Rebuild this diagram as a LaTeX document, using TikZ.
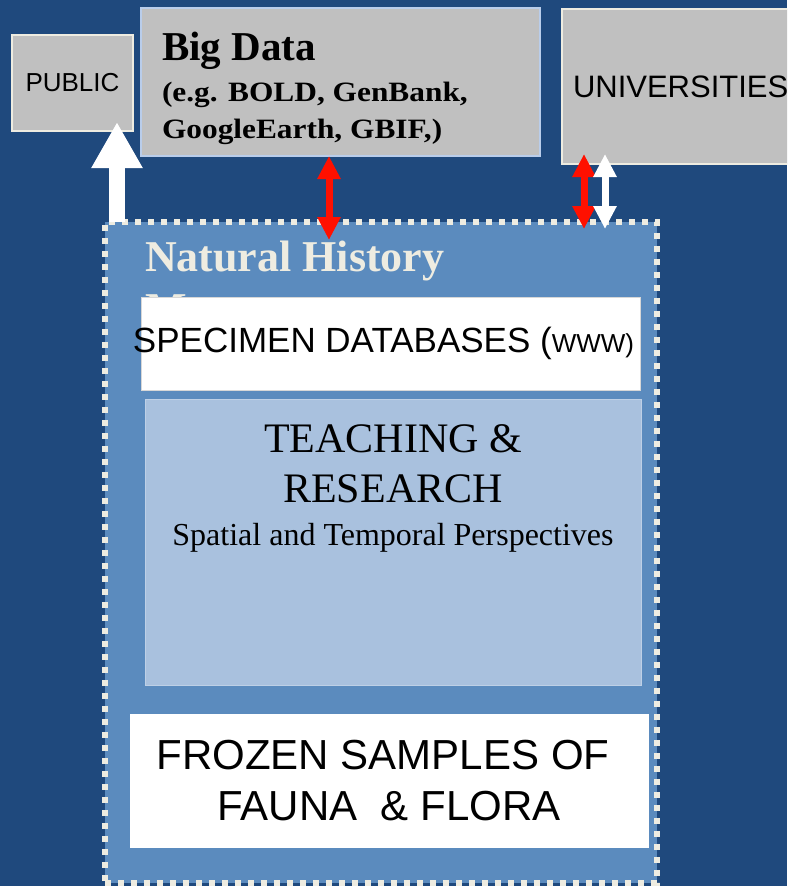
\documentclass[tikz,border=0pt]{standalone}
\usepackage{fontspec}
\setmainfont{Liberation Serif}
\newfontfamily\arialfont{Liberation Sans}
\newfontfamily\wideserif[FakeStretch=1.12]{Liberation Serif}
\usetikzlibrary{arrows.meta,positioning}

\definecolor{navy}{RGB}{31,73,125}
\definecolor{museumblue}{RGB}{91,139,190}
\definecolor{paleblue}{RGB}{169,193,222}
\definecolor{paleedge}{RGB}{190,208,230}
\definecolor{cream}{RGB}{238,236,225}
\definecolor{boxgray}{RGB}{192,192,192}
\definecolor{lightgray}{RGB}{215,215,215}
\definecolor{bigedge}{RGB}{185,205,235}
\definecolor{arrowred}{RGB}{255,16,0}

\begin{document}
\begin{tikzpicture}[ x=1pt, y=-1pt,
        every node/.style={ inner sep=0pt, outer sep=0pt },
        greybox/.style={ fill=boxgray, draw=cream, line width=1.5pt,
          anchor=north west },
        whitebox/.style={ fill=white, draw=lightgray, line width=1pt,
          anchor=north west },
        line/.style={ anchor=base west },
        link/.style={ <->, line width=7pt,
          >={Triangle[width=22pt,length=23pt]} } ]
        \useasboundingbox (0,0) rectangle (787,886);
        \clip (0,0) rectangle (787,886);
        \fill[navy] (0,0) rectangle (787,886);

        \node[draw=cream, fill=museumblue, line width=6pt,
        dash pattern=on 6pt off 7pt, anchor=north west,
        minimum width=552, minimum height=661] (museum) at (105,222) {};
        \node[line, text=cream, font=\bfseries\fontsize{44}{48}\selectfont]
        (title) at (145,271) {Natural History};
        \node[line, text=cream, font=\bfseries\fontsize{44}{48}\selectfont]
        (title2) at (145,323) {Museum};

        \node[whitebox, minimum width=499, minimum height=93] (specimen)
        at (141,297) {};
        \node[font=\arialfont\fontsize{35}{40}\selectfont] (spectext)
        at ([xshift=-7pt]specimen.center)
        {SPECIMEN DATABASES ({\fontsize{26}{30}\selectfont WWW)}};

        \node[anchor=north west, fill=paleblue, draw=paleedge, line width=1pt,
        minimum width=496, minimum height=286] (teach) at (145,399) {};
        \node[below=26pt of teach.north, align=center,
        font=\fontsize{42}{50}\selectfont] (teachtext)
        {TEACHING \&\\RESEARCH\\[-7pt]{\fontsize{32}{36}\selectfont Spatial and
        Temporal Perspectives}};

        \node[whitebox, draw=white, minimum width=518, minimum height=133]
        (frozen) at (130,714) {};
        \node[font=\arialfont\fontsize{42}{51}\selectfont, align=center]
        (frozentext) at (frozen.center)
        {FROZEN SAMPLES OF\hspace*{12pt}\\FAUNA\ \ \&\ FLORA};

        \node[greybox, minimum width=121, minimum height=96,
        font=\arialfont\fontsize{26}{30}\selectfont] (public) at (12,35) {PUBLIC};

        \node[greybox, draw=bigedge, minimum width=399, minimum height=148]
        (bigdata) at (141,8) {};
        \node[line, font=\bfseries\fontsize{41}{44}\selectfont] (bigtitle)
        at (162,60) {Big Data};
        \node[line, font=\wideserif\bfseries\fontsize{28}{32}\selectfont]
        (bigline) at (162,101) {(e.g. BOLD, GenBank,};
        \node[line, font=\wideserif\bfseries\fontsize{28}{32}\selectfont]
        (bigline2) at (162,138) {GoogleEarth, GBIF,)};

        \node[greybox, minimum width=240, minimum height=155] (univ) at (562,9) {};
        \node[line, font=\arialfont\fontsize{31}{36}\selectfont] (univtext)
        at (573,97) {UNIVERSITIES};

        \coordinate (pubx) at (117,222);
        \coordinate (bigx) at (329,240);
        \coordinate (univred) at (584,229);
        \coordinate (univwhite) at (605,229);

        \draw[white, line width=16pt, -{Triangle[width=48pt,length=46pt]},
        shorten >=-9pt] (pubx) -- (pubx |- public.south);
        \draw[link, arrowred] (bigx |- bigdata.south) -- (bigx);
        \draw[link, arrowred, shorten <=-10pt] (univred |- univ.south) -- (univred);
        \draw[link, white, shorten <=-10pt] (univwhite |- univ.south) -- (univwhite);
      \end{tikzpicture}
\end{document}
